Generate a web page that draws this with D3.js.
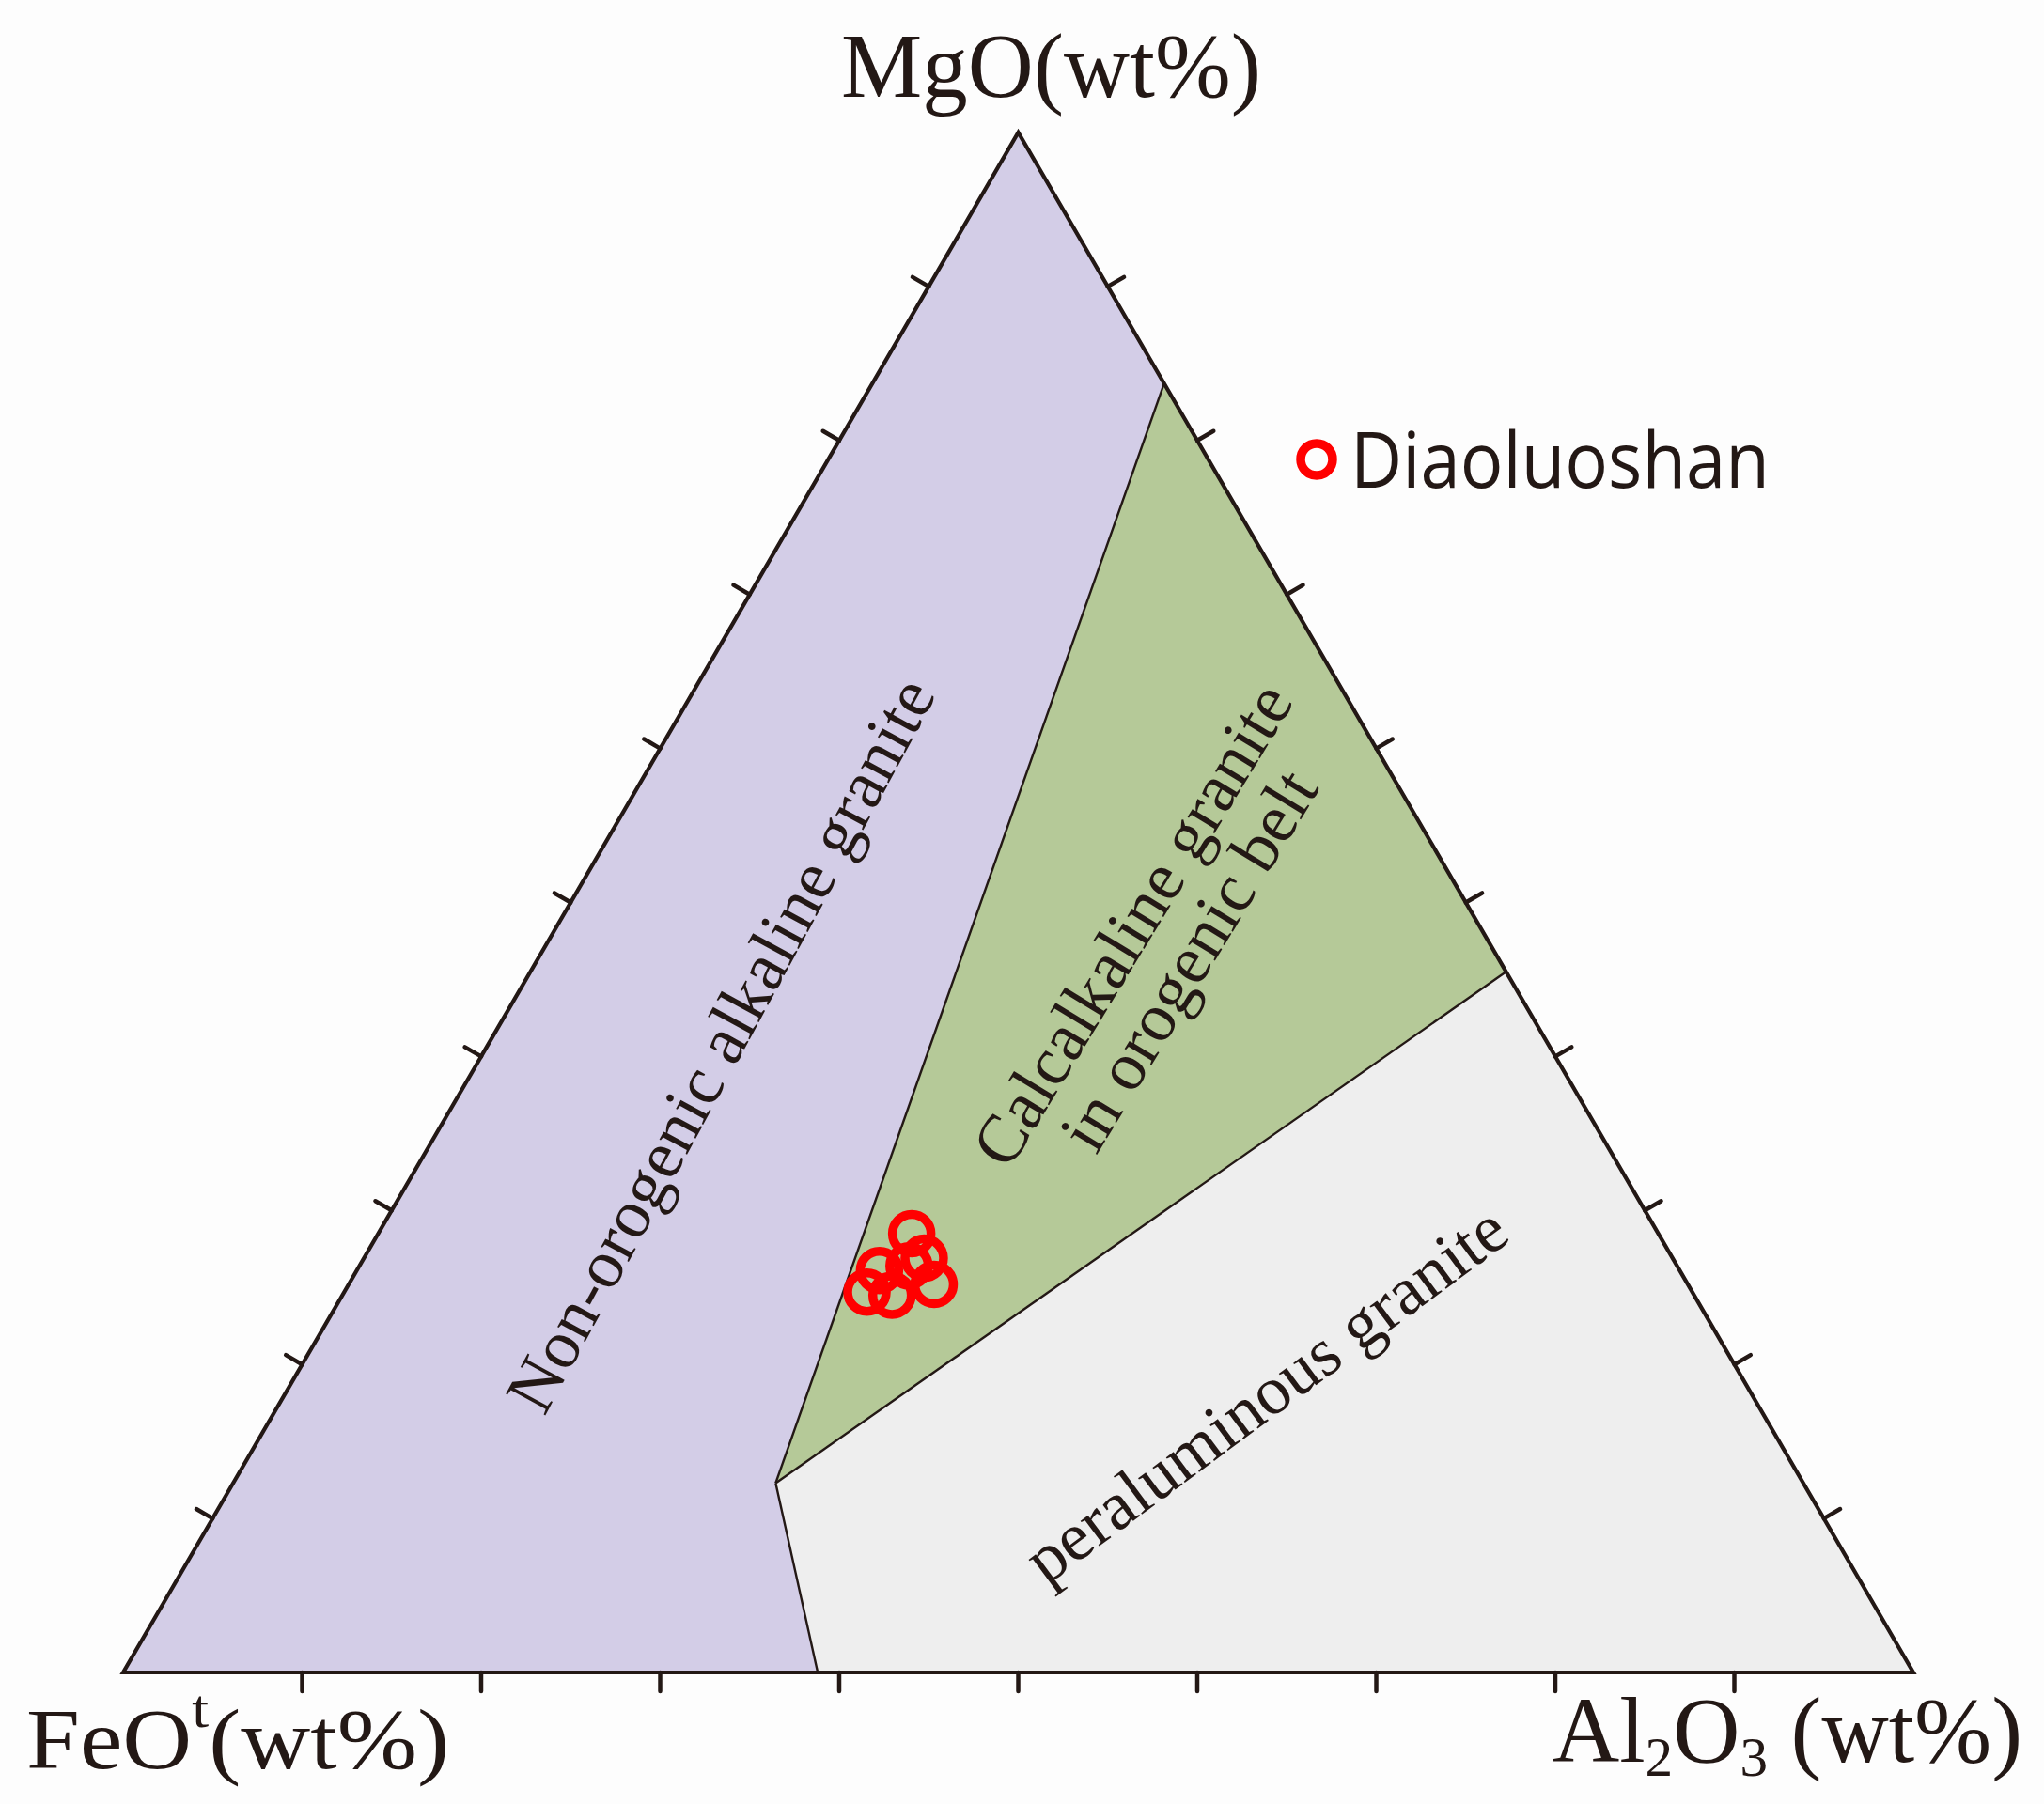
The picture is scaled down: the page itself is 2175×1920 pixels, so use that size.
<!DOCTYPE html>
<html>
<head>
<meta charset="utf-8">
<script src="https://cdn.jsdelivr.net/npm/d3@7"></script>
<style>
  html, body { margin: 0; padding: 0; background: #fdfdfd; }
  svg { display: block; }
</style>
</head>
<body>
<svg id="chart" width="2175" height="1920"></svg>
<script>
// ---------- DATA ----------
// Sample compositions (wt%, normalised): FeOt, MgO, Al2O3
const sampleFeO = [41.7, 41.8, 42.1, 44.7, 46.1, 44.8, 42.9];
const sampleMgO = [28.5, 26.9, 25.2, 26.1, 24.7, 24.5, 26.4];
const sampleAl  = [29.8, 31.3, 32.7, 29.2, 29.2, 30.7, 30.7];
const seriesName = "Diaoluoshan";

// Field boundary nodes [FeOt, MgO, Al2O3]
const nodeTopEdge   = [0, 83.7, 16.3];
const nodeRightEdge = [0, 45.5, 54.5];
const nodeInterior  = [57.4, 12.3, 30.3];
const nodeBottom    = [61.2, 0, 38.8];
const cornerFe = [100, 0, 0];
const cornerMg = [0, 100, 0];
const cornerAl = [0, 0, 100];

const fieldNames = ["Non-orogenic alkaline granite", "Calcalkaline granite", "in orogenic belt", "peraluminous granite"];
const tickValues = [10, 20, 30, 40, 50, 60, 70, 80, 90];

// ---------- LAYOUT ----------
const svg = d3.select("#chart");
const ink = "#231815";
const baseY = 1780, topY = 141, leftX = 131, rightX = 2036;

const xScale = d3.scaleLinear().domain([0, 100]).range([leftX, rightX]);
const yScale = d3.scaleLinear().domain([0, 100]).range([baseY, topY]);

function project(c) {
  const s = c[0] + c[1] + c[2];
  const mg = c[1] / s * 100, al = c[2] / s * 100;
  return [xScale(al + mg / 2), yScale(mg)];
}
const line = d3.line();

// fields
const fields = [
  { pts: [cornerFe, cornerMg, nodeTopEdge, nodeInterior, nodeBottom], fill: "#d3cde7" },
  { pts: [nodeTopEdge, nodeRightEdge, nodeInterior], fill: "#b5c998" },
  { pts: [nodeInterior, nodeRightEdge, cornerAl, nodeBottom], fill: "#eeeeee" }
];
svg.append("g").selectAll("path").data(fields).join("path")
  .attr("d", d => line(d.pts.map(project)) + "Z")
  .attr("fill", d => d.fill)
  .attr("stroke", "none");

// boundaries
const bounds = [[nodeTopEdge, nodeInterior], [nodeInterior, nodeRightEdge], [nodeInterior, nodeBottom]];
svg.append("g").selectAll("path").data(bounds).join("path")
  .attr("d", d => line(d.map(project)))
  .attr("fill", "none").attr("stroke", ink).attr("stroke-width", 2.4)
  .attr("stroke-linejoin", "round");

// outer triangle
svg.append("path")
  .attr("d", line([cornerFe, cornerMg, cornerAl].map(project)) + "Z")
  .attr("fill", "none").attr("stroke", ink).attr("stroke-width", 4.2)
  .attr("stroke-linejoin", "miter");

// ticks (outward normals)
const tickLen = 20;
const L = project(cornerFe), T = project(cornerMg), R = project(cornerAl);
function unit(a, b) { const dx = b[0] - a[0], dy = b[1] - a[1], n = Math.hypot(dx, dy); return [dx / n, dy / n]; }
const dLT = unit(L, T), dTR = unit(T, R);
const nLeft = [dLT[1], -dLT[0]];
const nRight = [dTR[1], -dTR[0]];
const ticks = [];
tickValues.forEach(v => {
  ticks.push({ p: project([100 - v, 0, v]), n: [0, 1] });         // bottom edge
  ticks.push({ p: project([100 - v, v, 0]), n: nLeft });          // left edge
  ticks.push({ p: project([0, v, 100 - v]), n: nRight });         // right edge
});
svg.append("g").selectAll("line").data(ticks).join("line")
  .attr("x1", d => d.p[0]).attr("y1", d => d.p[1])
  .attr("x2", d => d.p[0] + d.n[0] * tickLen).attr("y2", d => d.p[1] + d.n[1] * tickLen)
  .attr("stroke", ink).attr("stroke-width", 4.5).attr("stroke-linecap", "round");

// field labels
const serif = "'Liberation Serif', 'Times New Roman', serif";
function fieldLabel(txt, cx, cy, ang, fs) {
  svg.append("text")
    .attr("transform", `translate(${cx},${cy}) rotate(${ang})`)
    .attr("text-anchor", "middle").attr("dy", "0.33em")
    .attr("font-family", serif).attr("font-size", fs).attr("fill", ink)
    .text(txt);
}
fieldLabel(fieldNames[0], 767, 1112, -61.5, 73);
fieldLabel(fieldNames[1], 1205, 984, -58.7, 73);
fieldLabel(fieldNames[2], 1265, 1022, -58.7, 73);
fieldLabel(fieldNames[3], 1347, 1484, -36.6, 73);

// data points
svg.append("g").selectAll("circle").data(sampleFeO.map((f, i) => [f, sampleMgO[i], sampleAl[i]])).join("circle")
  .attr("cx", d => project(d)[0]).attr("cy", d => project(d)[1])
  .attr("r", 20.5).attr("fill", "none").attr("stroke", "#ff0000").attr("stroke-width", 9.5);

// axis titles
svg.append("text").attr("x", 895).attr("y", 103)
  .attr("font-family", serif).attr("font-size", 98).attr("fill", ink)
  .attr("textLength", 447).attr("lengthAdjust", "spacingAndGlyphs")
  .text("MgO(wt%)");

const fe = svg.append("text").attr("x", 28).attr("y", 1882)
  .attr("font-family", serif).attr("font-size", 92).attr("fill", ink)
  .attr("textLength", 450).attr("lengthAdjust", "spacingAndGlyphs");
fe.append("tspan").text("FeO");
fe.append("tspan").attr("font-size", 58).attr("dy", -44).text("t");
fe.append("tspan").attr("dy", 44).text("(wt%)");

const al = svg.append("text").attr("x", 1652).attr("y", 1875)
  .attr("font-family", serif).attr("font-size", 100).attr("fill", ink)
  .attr("textLength", 500).attr("lengthAdjust", "spacingAndGlyphs");
al.append("tspan").text("Al");
al.append("tspan").attr("font-size", 60).attr("dy", 15).text("2");
al.append("tspan").attr("dy", -15).text("O");
al.append("tspan").attr("font-size", 60).attr("dy", 15).text("3");
al.append("tspan").attr("dy", -15).text(" (wt%)");

// legend
svg.append("circle").attr("cx", 1401).attr("cy", 489).attr("r", 17)
  .attr("fill", "none").attr("stroke", "#ff0000").attr("stroke-width", 9.5);
svg.append("text").attr("x", 1437).attr("y", 519)
  .attr("font-family", "'Open Sans', 'Noto Sans', sans-serif").attr("font-size", 82).attr("fill", ink)
  .attr("textLength", 446).attr("lengthAdjust", "spacingAndGlyphs")
  .text(seriesName);
</script>
</body>
</html>
